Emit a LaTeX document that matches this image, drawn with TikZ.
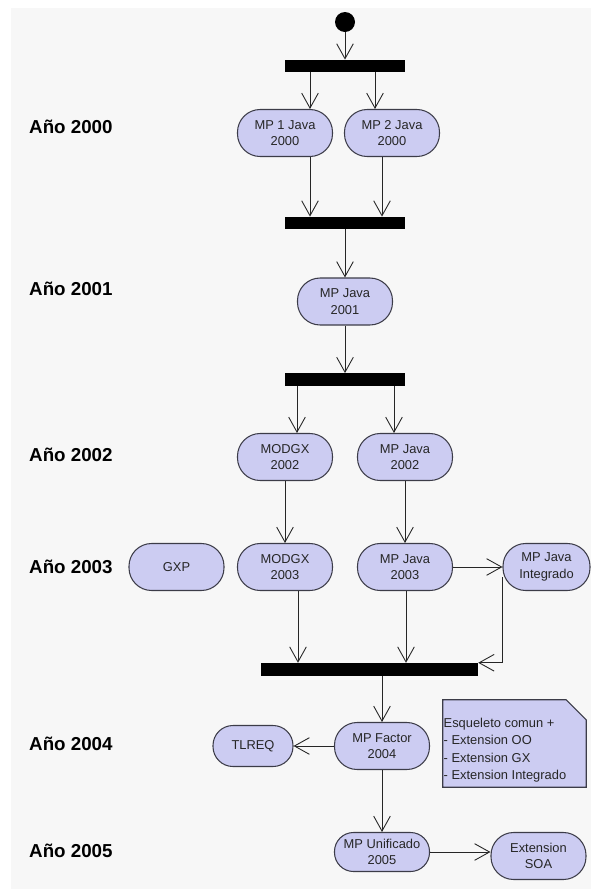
\documentclass[tikz,border=0pt]{standalone}
\usepackage{fontspec}
\setmainfont{Liberation Sans}
\usetikzlibrary{arrows.meta, positioning, calc}
\definecolor{lila}{RGB}{204,204,242}
\definecolor{fondo}{RGB}{247,247,247}
\definecolor{borde}{RGB}{60,60,72}
\tikzstyle{actividad} = [draw=borde, fill=lila, rectangle, rounded corners=0.68cm, minimum width=2.85cm, minimum height=1.41cm, line width=0.9pt, align=center, inner sep=2pt, text=black!85, font=\fontsize{11}{14}\selectfont]
\tikzstyle{barra} = [fill=black, rectangle, minimum width=3.6cm, minimum height=0.37cm, inner sep=0pt]
\tikzstyle{anio} = [anchor=west, inner sep=0pt, font=\bfseries\fontsize{16}{19}\selectfont]
\tikzstyle{flujo} = [draw=black!85, line width=0.75pt, ->]
\tikzstyle{notatexto} = [align=left, inner sep=0.6pt, text=black!85, font=\fontsize{11}{15}\selectfont]

\begin{document}
\begin{tikzpicture}[x=0.03cm, y=-0.03cm, >={Straight Barb[length=4.5mm,width=5mm]}]
    \useasboundingbox (0,0) rectangle (591,889);
    \fill [fondo] (11,8) rectangle (591,889);
    % etiquetas de los anios
    \node [anio] (a2000) at (29,127) {Año 2000};
    \node [anio] (a2001) at (29,289) {Año 2001};
    \node [anio] (a2002) at (29,455) {Año 2002};
    \node [anio] (a2003) at (29,567) {Año 2003};
    \node [anio] (a2004) at (29,744) {Año 2004};
    \node [anio] (a2005) at (29,851) {Año 2005};
    % actividades
    \node [circle, fill=black, minimum size=0.6cm, inner sep=0pt] (inicio) at (345,22) {};
    \node [barra] (b1) at (345,66) {};
    \node [actividad] (mp1) at (285,133) {MP 1 Java\\2000};
    \node [actividad] (mp2) at (392,133) {MP 2 Java\\2000};
    \node [barra] (b2) at (345,223) {};
    \node [actividad] (mp2001) at (345,301.5) {MP Java\\2001};
    \node [barra] (b3) at (345,379.5) {};
    \node [actividad] (modgx2) at (285,457) {MODGX\\2002};
    \node [actividad] (mpj2) at (405,457) {MP Java\\2002};
    \node [actividad] (gxp) at (176.5,567) {GXP};
    \node [actividad] (modgx3) at (285,567) {MODGX\\2003};
    \node [actividad] (mpj3) at (405,567) {MP Java\\2003};
    \node [actividad, minimum width=2.61cm] (integ) at (546.5,567) {MP Java\\Integrado};
    \node [barra, minimum width=6.51cm, minimum height=0.39cm] (b4) at (369.5,669.5) {};
    \node [actividad] (mpf) at (382,746) {MP Factor\\2004};
    \node [actividad, minimum width=2.4cm, minimum height=1.23cm, rounded corners=0.6cm] (tlreq) at (253,746) {TLREQ};
    \node [actividad, minimum height=1.17cm, rounded corners=0.57cm] (unif) at (382,852) {MP Unificado\\2005};
    \node [actividad] (soa) at (538.5,856) {Extension\\SOA};
    % nota
    \node [minimum width=4.29cm, minimum height=2.61cm] (nota) at (514.5,743.5) {};
    \draw [draw=borde, fill=lila, line width=0.9pt] (nota.south west) -- (nota.north west)
        -- ([xshift=-0.6cm]nota.north east) -- ([yshift=-0.6cm]nota.north east)
        -- (nota.south east) -- cycle;
    \node [notatexto, anchor=west] (textonota) at ([yshift=-0.2cm]nota.west)
        {Esqueleto comun +\\- Extension OO\\- Extension GX\\- Extension Integrado};
    % flujos
    \draw [flujo] (inicio) -- (b1.north);
    \draw [flujo] ($(b1.south)+(-35,0)$) -- ($(mp1.north)+(25,0)$);
    \draw [flujo] ($(b1.south)+(30,0)$) -- ($(mp2.north)+(-17,0)$);
    \draw [flujo] ($(mp1.south)+(25,0)$) -- ($(b2.north)+(-35,0)$);
    \draw [flujo] ($(mp2.south)+(-10,0)$) -- ($(b2.north)+(37,0)$);
    \draw [flujo] (b2.south) -- (mp2001.north);
    \draw [flujo] (mp2001.south) -- (b3.north);
    \draw [flujo] ($(b3.south)+(-48,0)$) -- ($(modgx2.north)+(12,0)$);
    \draw [flujo] ($(b3.south)+(49,0)$) -- ($(mpj2.north)+(-11,0)$);
    \draw [flujo] (modgx2.south) -- (modgx3.north);
    \draw [flujo] (mpj2.south) -- (mpj3.north);
    \draw [flujo] (mpj3.east) -- (integ.west);
    \draw [flujo] ($(modgx3.south)+(13,0)$) -- ($(b4.north)+(-71.5,0)$);
    \draw [flujo] ($(mpj3.south)+(1,0)$) -- ($(b4.north)+(36.5,0)$);
    \draw [flujo] ($(integ.west)+(0,10)$) -- (integ.west |- b4.north east) -- (b4.north east);
    \draw [flujo] ($(b4.south)+(12.5,0)$) -- (mpf.north);
    \draw [flujo] (mpf.west) -- (tlreq.east);
    \draw [flujo] (mpf.south) -- (unif.north);
    \draw [flujo] (unif.east) -- (unif.east -| soa.west);
\end{tikzpicture}
\end{document}
